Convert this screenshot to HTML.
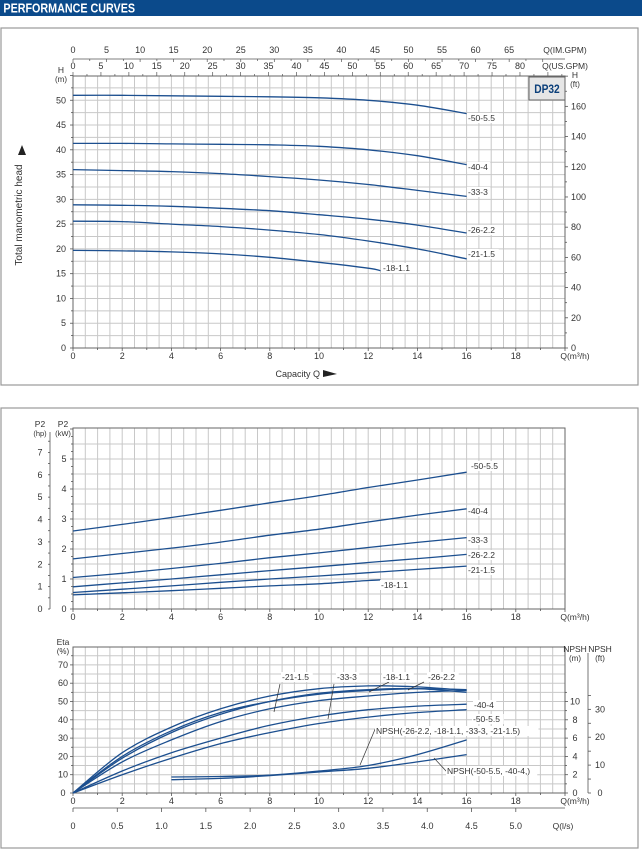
<!DOCTYPE html>
<html><head><meta charset="utf-8">
<style>
html,body{margin:0;padding:0;background:#fff;}
svg{display:block;font-family:"Liberation Sans",sans-serif;}
</style></head>
<body>
<svg id="s" width="642" height="852" viewBox="0 0 642 852" xmlns="http://www.w3.org/2000/svg">
  <rect x="0" y="0" width="642" height="16" fill="#0b4a8b"/>
  <text x="4" y="12.5" font-size="12.5" font-weight="bold" fill="#fff" transform="scale(0.86,1)">PERFORMANCE CURVES</text>
  <rect x="1" y="28" width="637" height="357" fill="none" stroke="#999" stroke-width="1.2"/>
  <rect x="1" y="408" width="637" height="440" fill="none" stroke="#999" stroke-width="1.2"/>
  <g id="layer"></g>
</svg>
<script>
// ---- data ----
const qFull = [0,2,4,6,8,10,12,14,16];
const q18 = [0,2,4,6,8,10,12,12.5];
const headModels = ['-50-5.5','-40-4','-33-3','-26-2.2','-21-1.5','-18-1.1'];
const h50 = [51.0,51.0,50.9,50.8,50.7,50.5,50.0,49.0,47.3];
const h40 = [41.3,41.3,41.2,41.1,41.0,40.7,40.0,38.8,37.0];
const h33 = [36.0,35.8,35.6,35.2,34.6,33.9,33.0,31.8,30.6];
const h26 = [28.9,28.8,28.6,28.2,27.7,26.9,26.0,24.8,23.2];
const h21 = [25.6,25.5,25.0,24.5,23.8,22.9,21.6,20.0,18.0];
const h18 = [19.7,19.6,19.4,19.0,18.3,17.3,16.1,15.6];
const p50 = [2.6,2.82,3.05,3.29,3.54,3.78,4.05,4.3,4.56];
const p40 = [1.67,1.85,2.03,2.23,2.46,2.66,2.9,3.13,3.34];
const p33 = [1.05,1.19,1.35,1.52,1.71,1.87,2.05,2.22,2.38];
const p26 = [0.74,0.87,1.0,1.14,1.28,1.41,1.55,1.68,1.82];
const p21 = [0.55,0.66,0.77,0.89,1.0,1.1,1.21,1.32,1.43];
const p18 = [0.47,0.54,0.61,0.69,0.77,0.84,0.95,0.97];
const e21 = [0,22,36,46,53,57,58.5,58,56];
const e18 = [0,20,34,44,50,54,56,57,56.5];
const e26 = [0,19,33,43,50,54.5,56.5,57,55];
const e33 = [0,17,29,39,46,50.5,53,55,56];
const e40 = [0,12,22,30,37,42,45.5,47.5,48.5];
const e50 = [0,10,19,27,33,38,41.5,44,45.5];
const qNpsh = [4,6,8,10,12,14,16];
const npshA = [1.75,1.8,1.95,2.4,3.0,4.2,5.8];
const npshB = [1.45,1.6,1.9,2.3,2.7,3.4,4.2];
const qTicks = [0,2,4,6,8,10,12,14,16,18];
const imgpmTicks = [0,5,10,15,20,25,30,35,40,45,50,55,60,65];
const usgpmTicks = [0,5,10,15,20,25,30,35,40,45,50,55,60,65,70,75,80];
const hTicks = [0,5,10,15,20,25,30,35,40,45,50];
const ftTicks = [0,20,40,60,80,100,120,140,160];
const kwTicks = [0,1,2,3,4,5];
const hpTicks = [0,1,2,3,4,5,6,7];
const etaTicks = [0,10,20,30,40,50,60,70];
const npshMTicks = [0,2,4,6,8,10];
const npshFtTicks = [0,10,20,30];
const lsTicks = ['0','0.5','1.0','1.5','2.0','2.5','3.0','3.5','4.0','4.5','5.0'];

// ---- axes ----
const X0 = 73, XPX = 24.6, XR = 565;
const xQ = q => X0 + q*XPX;
const yH = h => 348 - h*4.955;
const yP = p => 609 - p*30;
const yE = e => 793 - e*1.83;
const yN = m => 793 - m*9.15;

const NS = 'http://www.w3.org/2000/svg';
const L = document.getElementById('layer');
function mk(tag, attrs, parent){ const e = document.createElementNS(NS, tag); for (const k in attrs) e.setAttribute(k, attrs[k]); (parent||L).appendChild(e); return e; }
function txt(x,y,s,size,anchor,parent){ const t = mk('text',{x:x,y:y,'font-size':size||9,'text-anchor':anchor||'middle',fill:'#333'},parent); t.textContent = s; return t; }
function smooth(pts){
  let d = 'M'+pts[0][0].toFixed(1)+','+pts[0][1].toFixed(1);
  for (let i=0;i<pts.length-1;i++){
    const p0 = pts[i-1]||pts[i], p1 = pts[i], p2 = pts[i+1], p3 = pts[i+2]||p2;
    const c1 = [p1[0]+(p2[0]-p0[0])/6, p1[1]+(p2[1]-p0[1])/6];
    const c2 = [p2[0]-(p3[0]-p1[0])/6, p2[1]-(p3[1]-p1[1])/6];
    d += ' C'+c1[0].toFixed(1)+','+c1[1].toFixed(1)+' '+c2[0].toFixed(1)+','+c2[1].toFixed(1)+' '+p2[0].toFixed(1)+','+p2[1].toFixed(1);
  }
  return d;
}
function grid(top, bottom, yStepPx, name){
  const g = mk('g',{});
  
  
  for (let q=0.5; q<20; q+=0.5) mk('line',{x1:xQ(q),x2:xQ(q),y1:top,y2:bottom,stroke:'#c8c8c8','stroke-width':1},g);
  for (let y=bottom-yStepPx; y>top+1; y-=yStepPx) mk('line',{x1:X0,x2:XR,y1:y,y2:y,stroke:'#c8c8c8','stroke-width':1},g);
  mk('rect',{x:X0,y:top,width:XR-X0,height:bottom-top,fill:'none',stroke:'#666','stroke-width':1},g);
}
function qAxis(bottom, name){
  const g = mk('g',{});
  
  
  for (let q=0;q<=20;q+=1) mk('line',{x1:xQ(q),x2:xQ(q),y1:bottom,y2:bottom+(q%2?2:3),stroke:'#555','stroke-width':0.8},g);
  qTicks.forEach(q=>txt(xQ(q),bottom+11,String(q),9,'middle',g));
  txt(575,bottom+11,'Q(m³/h)',8.5,'middle',g);
}
function curve(xs, ys, fx, fy, name){
  const pts = xs.map((q,i)=>[fx(q), fy(ys[i])]);
  const p = mk('path',{d:smooth(pts),fill:'none',stroke:'#1c4f8f','stroke-width':1.3});
  
  
  return pts[pts.length-1];
}
function label(x,y,s,name){
  const w = s.length*4.25+2;
  mk('rect',{x:x-1,y:y-8,width:w,height:10,fill:'#fff'});
  const t = txt(x,y,s,8.5,'start');
  
  
}
function leader(x1,y1,x2,y2){ mk('line',{x1:x1,y1:y1,x2:x2,y2:y2,stroke:'#333','stroke-width':0.7}); }

// ================= HEAD CHART =================
grid(76, 348, 2.5*4.955, 'head-grid');
qAxis(348, 'head-x-axis');
const gTop = mk('g',{});


mk('line',{x1:X0,x2:XR,y1:59,y2:59,stroke:'#555','stroke-width':0.8},gTop);
for (let g=0; g<=72; g+=2.5) mk('line',{x1:xQ(g/3.666),x2:xQ(g/3.666),y1:59,y2:g%5?61:62,stroke:'#555','stroke-width':0.7},gTop);
imgpmTicks.forEach(g=>txt(xQ(g/3.666),53,String(g),9,'middle',gTop));
txt(565,53,'Q(IM.GPM)',8.5,'middle',gTop);
for (let g=0; g<=88; g+=2.5) mk('line',{x1:xQ(g/4.403),x2:xQ(g/4.403),y1:76,y2:g%5?74:72,stroke:'#555','stroke-width':0.7},gTop);
usgpmTicks.forEach(g=>txt(xQ(g/4.403),69,String(g),9,'middle',gTop));
txt(565,69,'Q(US.GPM)',8.5,'middle',gTop);
const gH = mk('g',{});


for (let h=0; h<=55; h+=2.5) mk('line',{x1:X0,x2:X0-(h%5?2:3),y1:yH(h),y2:yH(h),stroke:'#555','stroke-width':0.8},gH);
hTicks.forEach(h=>txt(66,yH(h)+3,String(h),9,'end',gH));
txt(61,73,'H',8.5,'middle',gH); txt(61,82,'(m)',8,'middle',gH);
const gF = mk('g',{});


for (let f=0; f<=180; f+=10) { const y = 348 - f*0.3048*4.955; if (y>=76) mk('line',{x1:XR,x2:XR+(f%20?2:3),y1:y,y2:y,stroke:'#555','stroke-width':0.8},gF); }
ftTicks.forEach(f=>txt(571,348 - f*0.3048*4.955+3,String(f),9,'start',gF));
txt(575,78,'H',8.5,'middle',gF); txt(575,87,'(ft)',8,'middle',gF);
const db = mk('rect',{x:529,y:77,width:36,height:23,fill:'#e6e6e6',stroke:'#666','stroke-width':1});


const dbt = mk('text',{x:547,y:93,'font-size':12,'font-weight':'bold','text-anchor':'middle',fill:'#0b3f7a',transform:'translate(547,0) scale(0.85,1) translate(-547,0)'}); dbt.textContent='DP32';
const yt = mk('text',{x:0,y:0,'font-size':10,'text-anchor':'middle',fill:'#333',transform:'translate(22,215) rotate(-90)'});
yt.textContent = 'Total manometric head';


mk('path',{d:'M18,155 L22,145 L26,155 Z',fill:'#222'});
const xt = txt(320,377,'Capacity Q',9,'end');


mk('path',{d:'M323,370 L337,374 L323,377 Z',fill:'#222'});
curve(qFull,h50,xQ,yH,'head-curve-50-5.5');
curve(qFull,h40,xQ,yH,'head-curve-40-4');
curve(qFull,h33,xQ,yH,'head-curve-33-3');
curve(qFull,h26,xQ,yH,'head-curve-26-2.2');
curve(qFull,h21,xQ,yH,'head-curve-21-1.5');
curve(q18,h18,xQ,yH,'head-curve-18-1.1');
label(468,121,'-50-5.5','head-label-50-5.5');
label(468,170,'-40-4','head-label-40-4');
label(468,195,'-33-3','head-label-33-3');
label(468,233,'-26-2.2','head-label-26-2.2');
label(468,257,'-21-1.5','head-label-21-1.5');
label(383,271,'-18-1.1','head-label-18-1.1');

// ================= POWER CHART =================
grid(428, 609, 15, 'power-grid');
qAxis(609, 'power-x-axis');
const gK = mk('g',{});


for (let k=0; k<=6; k+=0.25) mk('line',{x1:X0,x2:X0-(k%1?2:3),y1:yP(k),y2:yP(k),stroke:'#555','stroke-width':0.8},gK);
kwTicks.forEach(k=>txt(64,yP(k)+3,String(k),9,'middle',gK));
txt(63,427,'P2',8.5,'middle',gK); txt(63,436,'(kW)',7.5,'middle',gK);
const gHp = mk('g',{});


mk('line',{x1:50,x2:50,y1:432,y2:609,stroke:'#555','stroke-width':0.8},gHp);
for (let h=0; h<=7.5; h+=0.5) mk('line',{x1:50,x2:48,y1:yP(h*0.7457),y2:yP(h*0.7457),stroke:'#555','stroke-width':0.8},gHp);
hpTicks.forEach(h=>txt(40,yP(h*0.7457)+3,String(h),9,'middle',gHp));
txt(40,427,'P2',8.5,'middle',gHp); txt(40,436,'(hp)',7.5,'middle',gHp);
curve(qFull,p50,xQ,yP,'power-curve-50-5.5');
curve(qFull,p40,xQ,yP,'power-curve-40-4');
curve(qFull,p33,xQ,yP,'power-curve-33-3');
curve(qFull,p26,xQ,yP,'power-curve-26-2.2');
curve(qFull,p21,xQ,yP,'power-curve-21-1.5');
curve(q18,p18,xQ,yP,'power-curve-18-1.1');
label(471,469,'-50-5.5','power-label-50-5.5');
label(468,514,'-40-4','power-label-40-4');
label(468,543,'-33-3','power-label-33-3');
label(468,558,'-26-2.2','power-label-26-2.2');
label(468,573,'-21-1.5','power-label-21-1.5');
label(381,588,'-18-1.1','power-label-18-1.1');

// ================= EFFICIENCY / NPSH CHART =================
grid(647, 793, 5*1.83, 'efficiency-grid');
qAxis(793, 'efficiency-x-axis');
const gE = mk('g',{});


for (let e=0; e<=75; e+=5) mk('line',{x1:X0,x2:X0-(e%10?2:3),y1:yE(e),y2:yE(e),stroke:'#555','stroke-width':0.8},gE);
etaTicks.forEach(e=>txt(63,yE(e)+3,String(e),9,'middle',gE));
txt(63,645,'Eta',8.5,'middle',gE); txt(63,654,'(%)',8,'middle',gE);
const gN = mk('g',{});


for (let m=0; m<=11; m+=1) mk('line',{x1:XR,x2:XR+(m%2?2:3),y1:yN(m),y2:yN(m),stroke:'#555','stroke-width':0.8},gN);
npshMTicks.forEach(m=>txt(575,yN(m)+3,String(m),9,'middle',gN));
txt(575,652,'NPSH',8.5,'middle',gN); txt(575,661,'(m)',8,'middle',gN);
const gNf = mk('g',{});


mk('line',{x1:588,x2:588,y1:653,y2:793,stroke:'#555','stroke-width':0.8},gNf);
for (let f=0; f<=35; f+=5) mk('line',{x1:588,x2:591,y1:yN(f*0.3048),y2:yN(f*0.3048),stroke:'#555','stroke-width':0.8},gNf);
npshFtTicks.forEach(f=>txt(600,yN(f*0.3048)+3,String(f),9,'middle',gNf));
txt(600,652,'NPSH',8.5,'middle',gNf); txt(600,661,'(ft)',8,'middle',gNf);
const gL = mk('g',{});


mk('line',{x1:X0,x2:XR,y1:808,y2:808,stroke:'#555','stroke-width':0.8},gL);
lsTicks.forEach(s=>{ const x = xQ(parseFloat(s)*3.6); mk('line',{x1:x,x2:x,y1:808,y2:812,stroke:'#555','stroke-width':0.8},gL); txt(x,829,s,9,'middle',gL); });
txt(563,829,'Q(l/s)',8.5,'middle',gL);
curve(qFull,e21,xQ,yE,'eta-curve-21-1.5');
curve(qFull,e18,xQ,yE,'eta-curve-18-1.1');
curve(qFull,e26,xQ,yE,'eta-curve-26-2.2');
curve(qFull,e33,xQ,yE,'eta-curve-33-3');
curve(qFull,e40,xQ,yE,'eta-curve-40-4');
curve(qFull,e50,xQ,yE,'eta-curve-50-5.5');
curve(qNpsh,npshA,xQ,yN,'npsh-curve-group-a');
curve(qNpsh,npshB,xQ,yN,'npsh-curve-group-b');
leader(280,684,274,712); label(282,680,'-21-1.5','eta-label-21-1.5');
leader(334,684,328,719); label(337,680,'-33-3','eta-label-33-3');
leader(389,682,369,692); label(383,680,'-18-1.1','eta-label-18-1.1');
leader(424,682,408,690); label(428,680,'-26-2.2','eta-label-26-2.2');
label(474,708,'-40-4','eta-label-40-4');
label(473,722,'-50-5.5','eta-label-50-5.5');
leader(376,727,360,765); label(376,734,'NPSH(-26-2.2, -18-1.1, -33-3, -21-1.5)','npsh-label-group-a');
leader(447,772,434,758); label(447,774,'NPSH(-50-5.5, -40-4,)','npsh-label-group-b');
</script>
</body></html>
